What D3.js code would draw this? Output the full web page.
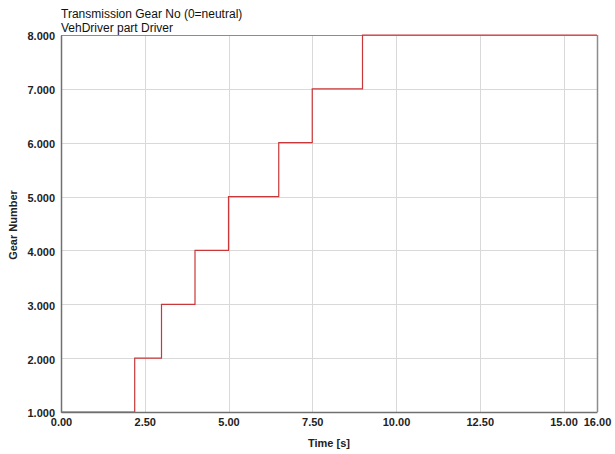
<!DOCTYPE html>
<html>
<head>
<meta charset="utf-8">
<script src="https://cdn.jsdelivr.net/npm/d3@7"></script>
<style>
  html, body { margin: 0; padding: 0; background: #fff; }
  svg { display: block; font-family: "Liberation Sans", Arial, sans-serif; }
</style>
</head>
<body>
<svg id="chart" width="615" height="454"></svg>
<script>
// Gear shift schedule: time at which each gear is engaged
const shiftTimes = [0, 2.2, 3.0, 4.0, 5.0, 6.5, 7.5, 9.0, 16.0];
const gears      = [1, 2, 3, 4, 5, 6, 7, 8, 8];

const xTicks = [0, 2.5, 5, 7.5, 10, 12.5, 15, 16];
const yTicks = [1, 2, 3, 4, 5, 6, 7, 8];

const titleLines = ["Transmission Gear No (0=neutral)", "VehDriver part Driver"];
const xLabel = "Time [s]";
const yLabel = "Gear Number";

const margin = { left: 61, right: 18, top: 35, bottom: 42 };
const W = 615, H = 454;
const svg = d3.select("#chart");

const x = d3.scaleLinear().domain([0, 16]).range([margin.left, W - margin.right]);
const y = d3.scaleLinear().domain([1, 8]).range([H - margin.bottom, margin.top]);

// grid
const grid = svg.append("g").attr("stroke", "#d9d9d9").attr("stroke-width", 1);
grid.selectAll(".gx").data(xTicks.filter(d => d > 0 && d < 16)).join("line")
  .attr("x1", d => Math.round(x(d)) + 0.5).attr("x2", d => Math.round(x(d)) + 0.5)
  .attr("y1", y(8)).attr("y2", y(1));
grid.selectAll(".gy").data(yTicks.filter(d => d > 1 && d < 8)).join("line")
  .attr("y1", d => Math.round(y(d)) + 0.5).attr("y2", d => Math.round(y(d)) + 0.5)
  .attr("x1", x(0)).attr("x2", x(16));

// frame: top and right
svg.append("line").attr("x1", x(0)).attr("x2", x(16)).attr("y1", Math.round(y(8)) + 0.5).attr("y2", Math.round(y(8)) + 0.5)
  .attr("stroke", "#8c8c8c");
svg.append("line").attr("x1", Math.round(x(16)) + 0.5).attr("x2", Math.round(x(16)) + 0.5).attr("y1", y(8)).attr("y2", y(1))
  .attr("stroke", "#8c8c8c").attr("stroke-width", 1.5);

// step line
const pts = gears.map((g, i) => [shiftTimes[i], g]);
const line = d3.line().x(d => x(d[0])).y(d => y(d[1])).curve(d3.curveStepAfter);
svg.append("path").datum(pts).attr("d", line)
  .attr("fill", "none").attr("stroke", "#c8383a").attr("stroke-width", 1.2);

// axes
const xAxis = d3.axisBottom(x).tickValues(xTicks).tickFormat(d3.format(".2f")).tickSize(0).tickPadding(6);
const yAxis = d3.axisLeft(y).tickValues(yTicks).tickFormat(d3.format(".3f")).tickSize(0).tickPadding(6);

const gx = svg.append("g").attr("transform", `translate(0,${y(1)})`).call(xAxis);
const gy = svg.append("g").attr("transform", `translate(${x(0)},0)`).call(yAxis);
[gx, gy].forEach(g => {
  g.select(".domain").attr("stroke", "#707070").attr("stroke-width", 1.5);
  g.selectAll("text").attr("font-size", 11).attr("font-family", "'Liberation Sans', Arial, sans-serif")
    .attr("fill", "#222").attr("font-weight", "bold");
});
gy.selectAll(".tick text").attr("dy", "0.45em");

// axis titles
svg.append("text").attr("x", x(8)).attr("y", 447).attr("text-anchor", "middle")
  .attr("font-size", 11).attr("font-weight", "bold").attr("fill", "#222").text(xLabel);
svg.append("text").attr("transform", `translate(17,${225}) rotate(-90)`).attr("text-anchor", "middle")
  .attr("font-size", 11).attr("font-weight", "bold").attr("fill", "#222").text(yLabel);

// chart title
svg.selectAll(".title").data(titleLines).join("text")
  .attr("x", margin.left).attr("y", (d, i) => 18 + i * 14)
  .attr("font-size", 12).attr("fill", "#111").text(d => d);
</script>
</body>
</html>
